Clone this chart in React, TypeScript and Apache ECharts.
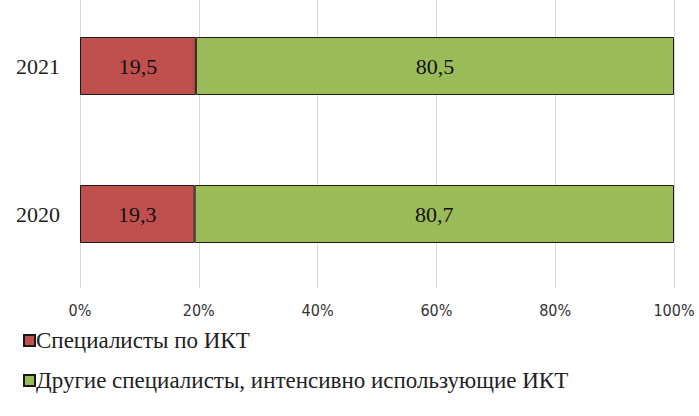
import React, { useEffect, useRef } from "react";
import * as echarts from "echarts";

const categories = ["2020", "2021"];
const ictSpecialists = [19.3, 19.5];
const otherSpecialists = [80.7, 80.5];
const xTicks = [0, 20, 40, 60, 80, 100];
const seriesNames = ["Специалисты по ИКТ", "Другие специалисты, интенсивно использующие ИКТ"];

export default function App() {
  const ref = useRef<HTMLDivElement>(null);
  useEffect(() => {
    document.body.style.margin = "0";
    const chart = echarts.init(ref.current!, null, { renderer: "svg" });
    const fmt = (p: any) => String(p.value).replace(".", ",");
    chart.setOption({
      animation: false,
      backgroundColor: "#ffffff",
      grid: { left: 80, right: 25, top: -8, height: 296, containLabel: false, outerBoundsMode: "none" },
      xAxis: {
        type: "value",
        min: xTicks[0],
        max: xTicks[xTicks.length - 1],
        interval: 20,
        axisLine: { show: false },
        axisTick: { show: false },
        splitLine: { show: true, lineStyle: { color: "#d9d9d9", width: 1 } },
        axisLabel: {
          formatter: (v: number) => v + "%",
          fontFamily: "'DejaVu Sans Condensed', 'DejaVu Sans', sans-serif",
          fontSize: 16,
          color: "#333333",
          margin: 14,
        },
      },
      yAxis: {
        type: "category",
        data: categories,
        axisLine: { show: false },
        axisTick: { show: false },
        axisLabel: {
          fontFamily: "Liberation Serif",
          fontSize: 22,
          color: "#222222",
          margin: 20,
        },
      },
      legend: {
        orient: "vertical",
        left: 18,
        top: 324,
        itemGap: 17,
        itemWidth: 11,
        itemHeight: 11,
        icon: "rect",
        textStyle: { fontFamily: "Liberation Serif", fontSize: 23, color: "#222222", padding: [0, 0, 0, -4] },
        data: seriesNames,
      },
      series: [
        {
          name: seriesNames[0],
          type: "bar",
          stack: "total",
          data: ictSpecialists,
          barWidth: 58,
          itemStyle: { color: "#C0504D", borderColor: "#1a1a1a", borderWidth: 1 },
          label: { show: true, position: "inside", formatter: fmt, fontFamily: "Liberation Serif", fontSize: 22, color: "#111111" },
        },
        {
          name: seriesNames[1],
          type: "bar",
          stack: "total",
          data: otherSpecialists,
          barWidth: 58,
          itemStyle: { color: "#9BBB59", borderColor: "#1a1a1a", borderWidth: 1 },
          label: { show: true, position: "inside", formatter: fmt, fontFamily: "Liberation Serif", fontSize: 22, color: "#111111" },
        },
      ],
    });
    return () => chart.dispose();
  }, []);
  return <div ref={ref} style={{ position: "absolute", left: 0, top: 0, width: 699, height: 416 }} />;
}
